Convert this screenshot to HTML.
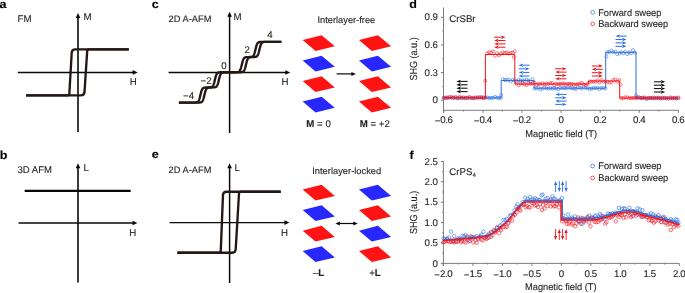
<!DOCTYPE html>
<html><head><meta charset="utf-8"><style>
html,body{margin:0;padding:0;background:#fff;}
body{width:685px;height:293px;overflow:hidden;}
svg{display:block;font-family:"Liberation Sans", sans-serif;will-change:transform;text-rendering:geometricPrecision;}
text{stroke:#231f20;stroke-width:0.12px;paint-order:stroke;}
</style></head><body>
<svg width="685" height="293" viewBox="0 0 685 293">
<rect width="685" height="293" fill="#fff"/>
<text transform="translate(-0.6 7.5) scale(1.08 1.0)" font-size="11.6" font-weight="bold" text-anchor="start" fill="#000" >a</text>
<text transform="translate(151.8 7.5) scale(1.08 1.0)" font-size="11.6" font-weight="bold" text-anchor="start" fill="#000" >c</text>
<text transform="translate(409.3 7.5) scale(1.08 1.0)" font-size="11.6" font-weight="bold" text-anchor="start" fill="#000" >d</text>
<text transform="translate(-0.3 158.6) scale(1.08 1.0)" font-size="11.6" font-weight="bold" text-anchor="start" fill="#000" >b</text>
<text transform="translate(151.8 158.3) scale(1.08 1.0)" font-size="11.6" font-weight="bold" text-anchor="start" fill="#000" >e</text>
<text transform="translate(409.5 158.6) scale(1.08 1.0)" font-size="11.6" font-weight="bold" text-anchor="start" fill="#000" >f</text>
<text transform="translate(17.6 22)" font-size="9.7" font-weight="normal" text-anchor="start" fill="#231f20" >FM</text>
<line x1="78" y1="131.9" x2="78" y2="17.1" stroke="#0a0a0a" stroke-width="1.6"/>
<path d="M78 12.9L80.3 17.9L75.7 17.9Z" fill="#0a0a0a"/>
<line x1="17.8" y1="72.4" x2="133.5" y2="72.4" stroke="#0a0a0a" stroke-width="1.45"/>
<path d="M137.7 72.4L132.7 74.7L132.7 70.1Z" fill="#0a0a0a"/>
<text transform="translate(83.6 19.9)" font-size="9.7" font-weight="normal" text-anchor="start" fill="#231f20" >M</text>
<text transform="translate(129.8 84.9)" font-size="9.7" font-weight="normal" text-anchor="start" fill="#231f20" >H</text>
<path d="M26 95.3 L80.9 95.3 Q84.3 95.3 84.52 91.9 L87.2 50.9 Q87.3 49.3 88.9 49.3 L128.8 49.3" fill="none" stroke="#231815" stroke-width="2.35"/>
<path d="M128.8 49.3 L75.3 49.3 Q71.9 49.3 71.7 52.7 L69.34 93.7 Q69.25 95.3 67.65 95.3 L26 95.3" fill="none" stroke="#231815" stroke-width="2.35"/>
<text transform="translate(17.5 173.2) scale(0.985 1.0)" font-size="9.7" font-weight="normal" text-anchor="start" fill="#231f20" >3D AFM</text>
<line x1="78" y1="282.6" x2="78" y2="167.4" stroke="#0a0a0a" stroke-width="1.6"/>
<path d="M78 163.2L80.3 168.2L75.7 168.2Z" fill="#0a0a0a"/>
<line x1="18.5" y1="223" x2="133.3" y2="223" stroke="#0a0a0a" stroke-width="1.55"/>
<path d="M137.5 223L132.5 225.3L132.5 220.7Z" fill="#0a0a0a"/>
<text transform="translate(83.6 171.4)" font-size="9.7" font-weight="normal" text-anchor="start" fill="#231f20" >L</text>
<text transform="translate(129.3 235.9)" font-size="9.7" font-weight="normal" text-anchor="start" fill="#231f20" >H</text>
<line x1="24.7" y1="190.8" x2="130.7" y2="190.8" stroke="#080808" stroke-width="2.35"/>
<text transform="translate(168.6 21.9) scale(0.99 1.0)" font-size="9.4" font-weight="normal" text-anchor="start" fill="#231f20" >2D A-AFM</text>
<line x1="229.6" y1="133" x2="229.6" y2="16" stroke="#0a0a0a" stroke-width="1.5"/>
<path d="M229.6 11.8L231.9 16.8L227.3 16.8Z" fill="#0a0a0a"/>
<line x1="168.6" y1="72.45" x2="286.1" y2="72.45" stroke="#0a0a0a" stroke-width="1.45"/>
<path d="M290.3 72.45L285.3 74.75L285.3 70.15Z" fill="#0a0a0a"/>
<text transform="translate(233.5 19.7)" font-size="9.7" font-weight="normal" text-anchor="start" fill="#231f20" >M</text>
<text transform="translate(281.6 84.7)" font-size="9.7" font-weight="normal" text-anchor="start" fill="#231f20" >H</text>
<path d="M178.9 102.65 L179.15 102.65 L179.4 102.65 L179.65 102.65 L179.9 102.65 L180.15 102.65 L180.4 102.65 L180.65 102.65 L180.9 102.65 L181.15 102.65 L181.4 102.65 L181.65 102.65 L181.9 102.65 L182.15 102.65 L182.4 102.65 L182.65 102.65 L182.9 102.65 L183.15 102.65 L183.4 102.65 L183.65 102.65 L183.9 102.65 L184.15 102.65 L184.4 102.65 L184.65 102.65 L184.9 102.65 L185.15 102.65 L185.4 102.65 L185.65 102.65 L185.9 102.65 L186.15 102.65 L186.4 102.65 L186.65 102.65 L186.9 102.65 L187.15 102.65 L187.4 102.65 L187.65 102.65 L187.9 102.65 L188.15 102.65 L188.4 102.65 L188.65 102.65 L188.9 102.65 L189.15 102.65 L189.4 102.65 L189.65 102.65 L189.9 102.65 L190.15 102.65 L190.4 102.65 L190.65 102.65 L190.9 102.65 L191.15 102.65 L191.4 102.65 L191.65 102.65 L191.9 102.65 L192.15 102.65 L192.4 102.65 L192.65 102.65 L192.9 102.65 L193.15 102.65 L193.4 102.65 L193.65 102.65 L193.9 102.65 L194.15 102.65 L194.4 102.65 L194.65 102.65 L194.9 102.65 L195.15 102.65 L195.4 102.65 L195.65 102.65 L195.9 102.65 L196.15 102.65 L196.4 102.65 L196.65 102.65 L196.9 102.65 L197.15 102.65 L197.4 102.64 L197.65 102.64 L197.9 102.64 L198.15 102.64 L198.4 102.63 L198.65 102.62 L198.9 102.62 L199.15 102.61 L199.4 102.59 L199.65 102.57 L199.9 102.55 L200.15 102.52 L200.4 102.47 L200.65 102.42 L200.9 102.35 L201.15 102.25 L201.4 102.13 L201.65 101.97 L201.9 101.76 L202.15 101.5 L202.4 101.16 L202.65 100.75 L202.9 100.24 L203.15 99.62 L203.4 98.89 L203.65 98.05 L203.9 97.11 L204.15 96.1 L204.4 95.05 L204.65 94 L204.9 92.99 L205.15 92.05 L205.4 91.21 L205.65 90.48 L205.9 89.86 L206.15 89.35 L206.4 88.94 L206.65 88.6 L206.9 88.34 L207.15 88.13 L207.4 87.97 L207.65 87.85 L207.9 87.75 L208.15 87.68 L208.4 87.63 L208.65 87.58 L208.9 87.55 L209.15 87.53 L209.4 87.51 L209.65 87.49 L209.9 87.48 L210.15 87.47 L210.4 87.47 L210.65 87.46 L210.9 87.46 L211.15 87.46 L211.4 87.45 L211.65 87.45 L211.9 87.45 L212.15 87.44 L212.4 87.44 L212.65 87.44 L212.9 87.43 L213.15 87.43 L213.4 87.42 L213.65 87.41 L213.9 87.39 L214.15 87.37 L214.4 87.35 L214.65 87.32 L214.9 87.27 L215.15 87.22 L215.4 87.15 L215.65 87.05 L215.9 86.93 L216.15 86.77 L216.4 86.56 L216.65 86.3 L216.9 85.96 L217.15 85.55 L217.4 85.04 L217.65 84.42 L217.9 83.69 L218.15 82.85 L218.4 81.91 L218.65 80.9 L218.9 79.85 L219.15 78.8 L219.4 77.79 L219.65 76.85 L219.9 76.01 L220.15 75.28 L220.4 74.66 L220.65 74.15 L220.9 73.74 L221.15 73.4 L221.4 73.14 L221.65 72.93 L221.9 72.77 L222.15 72.65 L222.4 72.55 L222.65 72.48 L222.9 72.43 L223.15 72.38 L223.4 72.35 L223.65 72.33 L223.9 72.31 L224.15 72.29 L224.4 72.28 L224.65 72.28 L224.9 72.27 L225.15 72.26 L225.4 72.26 L225.65 72.26 L225.9 72.26 L226.15 72.25 L226.4 72.25 L226.65 72.25 L226.9 72.25 L227.15 72.25 L227.4 72.25 L227.65 72.25 L227.9 72.25 L228.15 72.25 L228.4 72.25 L228.65 72.25 L228.9 72.25 L229.15 72.25 L229.4 72.25 L229.65 72.25 L229.9 72.25 L230.15 72.25 L230.4 72.25 L230.65 72.25 L230.9 72.25 L231.15 72.25 L231.4 72.25 L231.65 72.25 L231.9 72.25 L232.15 72.25 L232.4 72.25 L232.65 72.25 L232.9 72.25 L233.15 72.25 L233.4 72.25 L233.65 72.25 L233.9 72.25 L234.15 72.25 L234.4 72.25 L234.65 72.25 L234.9 72.25 L235.15 72.25 L235.4 72.25 L235.65 72.25 L235.9 72.25 L236.15 72.25 L236.4 72.25 L236.65 72.25 L236.9 72.25 L237.15 72.25 L237.4 72.25 L237.65 72.25 L237.9 72.25 L238.15 72.25 L238.4 72.25 L238.65 72.25 L238.9 72.24 L239.15 72.24 L239.4 72.24 L239.65 72.24 L239.9 72.23 L240.15 72.23 L240.4 72.22 L240.65 72.21 L240.9 72.2 L241.15 72.18 L241.4 72.16 L241.65 72.13 L241.9 72.09 L242.15 72.04 L242.4 71.98 L242.65 71.89 L242.9 71.78 L243.15 71.64 L243.4 71.45 L243.65 71.21 L243.9 70.91 L244.15 70.52 L244.4 70.05 L244.65 69.48 L244.9 68.79 L245.15 67.99 L245.4 67.09 L245.65 66.11 L245.9 65.07 L246.15 64.02 L246.4 62.99 L246.65 62.02 L246.9 61.14 L247.15 60.36 L247.4 59.7 L247.65 59.15 L247.9 58.69 L248.15 58.33 L248.4 58.04 L248.65 57.81 L248.9 57.63 L249.15 57.5 L249.4 57.39 L249.65 57.31 L249.9 57.25 L250.15 57.2 L250.4 57.16 L250.65 57.14 L250.9 57.11 L251.15 57.1 L251.4 57.09 L251.65 57.08 L251.9 57.07 L252.15 57.06 L252.4 57.06 L252.65 57.05 L252.9 57.05 L253.15 57.04 L253.4 57.04 L253.65 57.03 L253.9 57.02 L254.15 57.01 L254.4 57 L254.65 56.98 L254.9 56.96 L255.15 56.93 L255.4 56.89 L255.65 56.84 L255.9 56.78 L256.15 56.69 L256.4 56.58 L256.65 56.44 L256.9 56.25 L257.15 56.01 L257.4 55.71 L257.65 55.32 L257.9 54.85 L258.15 54.28 L258.4 53.59 L258.65 52.79 L258.9 51.89 L259.15 50.91 L259.4 49.87 L259.65 48.82 L259.9 47.79 L260.15 46.82 L260.4 45.94 L260.65 45.16 L260.9 44.5 L261.15 43.95 L261.4 43.49 L261.65 43.13 L261.9 42.84 L262.15 42.61 L262.4 42.43 L262.65 42.3 L262.9 42.19 L263.15 42.11 L263.4 42.05 L263.65 42 L263.9 41.96 L264.15 41.94 L264.4 41.92 L264.65 41.9 L264.9 41.89 L265.15 41.88 L265.4 41.87 L265.65 41.87 L265.9 41.86 L266.15 41.86 L266.4 41.86 L266.65 41.86 L266.9 41.85 L267.15 41.85 L267.4 41.85 L267.65 41.85 L267.9 41.85 L268.15 41.85 L268.4 41.85 L268.65 41.85 L268.9 41.85 L269.15 41.85 L269.4 41.85 L269.65 41.85 L269.9 41.85 L270.15 41.85 L270.4 41.85 L270.65 41.85 L270.9 41.85 L271.15 41.85 L271.4 41.85 L271.65 41.85 L271.9 41.85 L272.15 41.85 L272.4 41.85 L272.65 41.85 L272.9 41.85 L273.15 41.85 L273.4 41.85 L273.65 41.85 L273.9 41.85 L274.15 41.85 L274.4 41.85 L274.65 41.85 L274.9 41.85 L275.15 41.85 L275.4 41.85 L275.65 41.85 L275.9 41.85 L276.15 41.85 L276.4 41.85 L276.65 41.85 L276.9 41.85 L277.15 41.85 L277.4 41.85 L277.65 41.85 L277.9 41.85 L278.15 41.85 L278.4 41.85 L278.65 41.85 L278.9 41.85 L279.15 41.85 L279.4 41.85 L279.65 41.85 L279.9 41.85 L280.15 41.85 L280.4 41.85 L280.65 41.85 L280.9 41.85 L281.15 41.85 L281.4 41.85" fill="none" stroke="#231815" stroke-width="2.35"/>
<path d="M178.9 102.65 L179.15 102.65 L179.4 102.65 L179.65 102.65 L179.9 102.65 L180.15 102.65 L180.4 102.65 L180.65 102.65 L180.9 102.65 L181.15 102.65 L181.4 102.65 L181.65 102.65 L181.9 102.65 L182.15 102.65 L182.4 102.65 L182.65 102.65 L182.9 102.65 L183.15 102.65 L183.4 102.65 L183.65 102.65 L183.9 102.65 L184.15 102.65 L184.4 102.65 L184.65 102.65 L184.9 102.65 L185.15 102.65 L185.4 102.65 L185.65 102.65 L185.9 102.65 L186.15 102.65 L186.4 102.65 L186.65 102.65 L186.9 102.65 L187.15 102.65 L187.4 102.65 L187.65 102.65 L187.9 102.65 L188.15 102.65 L188.4 102.65 L188.65 102.65 L188.9 102.65 L189.15 102.65 L189.4 102.65 L189.65 102.65 L189.9 102.65 L190.15 102.65 L190.4 102.65 L190.65 102.65 L190.9 102.65 L191.15 102.65 L191.4 102.65 L191.65 102.65 L191.9 102.65 L192.15 102.65 L192.4 102.65 L192.65 102.65 L192.9 102.65 L193.15 102.65 L193.4 102.64 L193.65 102.64 L193.9 102.64 L194.15 102.64 L194.4 102.63 L194.65 102.62 L194.9 102.62 L195.15 102.61 L195.4 102.59 L195.65 102.57 L195.9 102.55 L196.15 102.52 L196.4 102.47 L196.65 102.42 L196.9 102.35 L197.15 102.25 L197.4 102.13 L197.65 101.97 L197.9 101.76 L198.15 101.5 L198.4 101.16 L198.65 100.75 L198.9 100.24 L199.15 99.62 L199.4 98.89 L199.65 98.05 L199.9 97.11 L200.15 96.1 L200.4 95.05 L200.65 94 L200.9 92.99 L201.15 92.05 L201.4 91.21 L201.65 90.48 L201.9 89.86 L202.15 89.35 L202.4 88.94 L202.65 88.6 L202.9 88.34 L203.15 88.13 L203.4 87.97 L203.65 87.85 L203.9 87.75 L204.15 87.68 L204.4 87.63 L204.65 87.58 L204.9 87.55 L205.15 87.53 L205.4 87.51 L205.65 87.49 L205.9 87.48 L206.15 87.47 L206.4 87.47 L206.65 87.46 L206.9 87.46 L207.15 87.46 L207.4 87.45 L207.65 87.45 L207.9 87.45 L208.15 87.44 L208.4 87.44 L208.65 87.44 L208.9 87.43 L209.15 87.43 L209.4 87.42 L209.65 87.41 L209.9 87.39 L210.15 87.37 L210.4 87.35 L210.65 87.32 L210.9 87.27 L211.15 87.22 L211.4 87.15 L211.65 87.05 L211.9 86.93 L212.15 86.77 L212.4 86.56 L212.65 86.3 L212.9 85.96 L213.15 85.55 L213.4 85.04 L213.65 84.42 L213.9 83.69 L214.15 82.85 L214.4 81.91 L214.65 80.9 L214.9 79.85 L215.15 78.8 L215.4 77.79 L215.65 76.85 L215.9 76.01 L216.15 75.28 L216.4 74.66 L216.65 74.15 L216.9 73.74 L217.15 73.4 L217.4 73.14 L217.65 72.93 L217.9 72.77 L218.15 72.65 L218.4 72.55 L218.65 72.48 L218.9 72.43 L219.15 72.38 L219.4 72.35 L219.65 72.33 L219.9 72.31 L220.15 72.29 L220.4 72.28 L220.65 72.28 L220.9 72.27 L221.15 72.26 L221.4 72.26 L221.65 72.26 L221.9 72.26 L222.15 72.25 L222.4 72.25 L222.65 72.25 L222.9 72.25 L223.15 72.25 L223.4 72.25 L223.65 72.25 L223.9 72.25 L224.15 72.25 L224.4 72.25 L224.65 72.25 L224.9 72.25 L225.15 72.25 L225.4 72.25 L225.65 72.25 L225.9 72.25 L226.15 72.25 L226.4 72.25 L226.65 72.25 L226.9 72.25 L227.15 72.25 L227.4 72.25 L227.65 72.25 L227.9 72.25 L228.15 72.25 L228.4 72.25 L228.65 72.25 L228.9 72.25 L229.15 72.25 L229.4 72.25 L229.65 72.25 L229.9 72.25 L230.15 72.25 L230.4 72.25 L230.65 72.25 L230.9 72.25 L231.15 72.25 L231.4 72.25 L231.65 72.25 L231.9 72.25 L232.15 72.25 L232.4 72.25 L232.65 72.25 L232.9 72.25 L233.15 72.25 L233.4 72.25 L233.65 72.25 L233.9 72.25 L234.15 72.25 L234.4 72.25 L234.65 72.24 L234.9 72.24 L235.15 72.24 L235.4 72.24 L235.65 72.23 L235.9 72.23 L236.15 72.22 L236.4 72.21 L236.65 72.2 L236.9 72.18 L237.15 72.16 L237.4 72.14 L237.65 72.1 L237.9 72.05 L238.15 71.99 L238.4 71.91 L238.65 71.8 L238.9 71.67 L239.15 71.49 L239.4 71.26 L239.65 70.97 L239.9 70.61 L240.15 70.15 L240.4 69.6 L240.65 68.94 L240.9 68.16 L241.15 67.28 L241.4 66.31 L241.65 65.28 L241.9 64.23 L242.15 63.19 L242.4 62.21 L242.65 61.31 L242.9 60.51 L243.15 59.82 L243.4 59.25 L243.65 58.78 L243.9 58.39 L244.15 58.09 L244.4 57.85 L244.65 57.66 L244.9 57.52 L245.15 57.41 L245.4 57.32 L245.65 57.26 L245.9 57.21 L246.15 57.17 L246.4 57.14 L246.65 57.12 L246.9 57.1 L247.15 57.09 L247.4 57.08 L247.65 57.07 L247.9 57.06 L248.15 57.06 L248.4 57.05 L248.65 57.05 L248.9 57.05 L249.15 57.04 L249.4 57.04 L249.65 57.03 L249.9 57.02 L250.15 57.01 L250.4 57 L250.65 56.98 L250.9 56.96 L251.15 56.93 L251.4 56.89 L251.65 56.84 L251.9 56.78 L252.15 56.69 L252.4 56.58 L252.65 56.44 L252.9 56.25 L253.15 56.01 L253.4 55.71 L253.65 55.32 L253.9 54.85 L254.15 54.28 L254.4 53.59 L254.65 52.79 L254.9 51.89 L255.15 50.91 L255.4 49.87 L255.65 48.82 L255.9 47.79 L256.15 46.82 L256.4 45.94 L256.65 45.16 L256.9 44.5 L257.15 43.95 L257.4 43.49 L257.65 43.13 L257.9 42.84 L258.15 42.61 L258.4 42.43 L258.65 42.3 L258.9 42.19 L259.15 42.11 L259.4 42.05 L259.65 42 L259.9 41.96 L260.15 41.94 L260.4 41.92 L260.65 41.9 L260.9 41.89 L261.15 41.88 L261.4 41.87 L261.65 41.87 L261.9 41.86 L262.15 41.86 L262.4 41.86 L262.65 41.86 L262.9 41.85 L263.15 41.85 L263.4 41.85 L263.65 41.85 L263.9 41.85 L264.15 41.85 L264.4 41.85 L264.65 41.85 L264.9 41.85 L265.15 41.85 L265.4 41.85 L265.65 41.85 L265.9 41.85 L266.15 41.85 L266.4 41.85 L266.65 41.85 L266.9 41.85 L267.15 41.85 L267.4 41.85 L267.65 41.85 L267.9 41.85 L268.15 41.85 L268.4 41.85 L268.65 41.85 L268.9 41.85 L269.15 41.85 L269.4 41.85 L269.65 41.85 L269.9 41.85 L270.15 41.85 L270.4 41.85 L270.65 41.85 L270.9 41.85 L271.15 41.85 L271.4 41.85 L271.65 41.85 L271.9 41.85 L272.15 41.85 L272.4 41.85 L272.65 41.85 L272.9 41.85 L273.15 41.85 L273.4 41.85 L273.65 41.85 L273.9 41.85 L274.15 41.85 L274.4 41.85 L274.65 41.85 L274.9 41.85 L275.15 41.85 L275.4 41.85 L275.65 41.85 L275.9 41.85 L276.15 41.85 L276.4 41.85 L276.65 41.85 L276.9 41.85 L277.15 41.85 L277.4 41.85 L277.65 41.85 L277.9 41.85 L278.15 41.85 L278.4 41.85 L278.65 41.85 L278.9 41.85 L279.15 41.85 L279.4 41.85 L279.65 41.85 L279.9 41.85 L280.15 41.85 L280.4 41.85 L280.65 41.85 L280.9 41.85 L281.15 41.85 L281.4 41.85" fill="none" stroke="#231815" stroke-width="2.35"/>
<text transform="translate(267.2 37.7)" font-size="9.7" font-weight="normal" text-anchor="start" fill="#231f20" >4</text>
<text transform="translate(244.6 53)" font-size="9.7" font-weight="normal" text-anchor="start" fill="#231f20" >2</text>
<text transform="translate(221.2 68.5)" font-size="9.7" font-weight="normal" text-anchor="start" fill="#231f20" >0</text>
<text transform="translate(200.6 84)" font-size="9.7" font-weight="normal" text-anchor="start" fill="#231f20" >−2</text>
<text transform="translate(183.1 99)" font-size="9.7" font-weight="normal" text-anchor="start" fill="#231f20" >−4</text>
<polygon points="302.7,39.95 321.6,35.15 334.8,46.35 315.5,50.9" fill="#ff1313"/>
<polygon points="302.7,60.45 321.6,55.65 334.8,66.85 315.5,71.4" fill="#2727fe"/>
<polygon points="302.7,81.05 321.6,76.25 334.8,87.45 315.5,92" fill="#ff1313"/>
<polygon points="302.7,101.45 321.6,96.65 334.8,107.85 315.5,112.4" fill="#2727fe"/>
<polygon points="359,39.95 377.9,35.15 391.1,46.35 371.8,50.9" fill="#ff1313"/>
<polygon points="359,60.45 377.9,55.65 391.1,66.85 371.8,71.4" fill="#2727fe"/>
<polygon points="359,81.05 377.9,76.25 391.1,87.45 371.8,92" fill="#ff1313"/>
<polygon points="359,101.45 377.9,96.65 391.1,107.85 371.8,112.4" fill="#ff1313"/>
<text transform="translate(317.4 22.6)" font-size="9.3" font-weight="normal" text-anchor="start" fill="#231f20" >Interlayer-free</text>
<line x1="336.6" y1="73.9" x2="352.2" y2="73.9" stroke="#0a0a0a" stroke-width="1.2"/>
<path d="M355.9 73.9L351.4 75.9L351.4 71.9Z" fill="#0a0a0a"/>
<text transform="translate(306.3 127.1) scale(1 1.0)" font-size="9.7" fill="#231f20"><tspan font-weight="bold">M</tspan> = 0</text>
<text transform="translate(359.7 127.1) scale(1 1.0)" font-size="9.7" fill="#231f20"><tspan font-weight="bold">M</tspan> = +2</text>
<text transform="translate(168.6 172.8) scale(0.99 1.0)" font-size="9.4" font-weight="normal" text-anchor="start" fill="#231f20" >2D A-AFM</text>
<line x1="229.6" y1="283" x2="229.6" y2="167.4" stroke="#0a0a0a" stroke-width="1.5"/>
<path d="M229.6 163.2L231.9 168.2L227.3 168.2Z" fill="#0a0a0a"/>
<line x1="169.6" y1="222.6" x2="285.2" y2="222.6" stroke="#0a0a0a" stroke-width="1.45"/>
<path d="M289.4 222.6L284.4 224.9L284.4 220.3Z" fill="#0a0a0a"/>
<text transform="translate(234.4 170.7)" font-size="9.7" font-weight="normal" text-anchor="start" fill="#231f20" >L</text>
<text transform="translate(281 235.5)" font-size="9.7" font-weight="normal" text-anchor="start" fill="#231f20" >H</text>
<path d="M177.4 252.7 L232.1 252.7 Q235.5 252.7 235.7 249.3 L239.01 193.3 Q239.1 191.7 240.7 191.7 L280.7 191.7" fill="none" stroke="#231815" stroke-width="2.35"/>
<path d="M280.7 191.7 L226.5 191.7 Q223.1 191.7 222.97 195.1 L220.76 251.1 Q220.7 252.7 219.1 252.7 L177.4 252.7" fill="none" stroke="#231815" stroke-width="2.35"/>
<polygon points="302.7,189.55 321.6,184.75 334.8,195.95 315.5,200.5" fill="#ff1313"/>
<polygon points="302.7,210.05 321.6,205.25 334.8,216.45 315.5,221" fill="#2727fe"/>
<polygon points="302.7,230.65 321.6,225.85 334.8,237.05 315.5,241.6" fill="#ff1313"/>
<polygon points="302.7,251.05 321.6,246.25 334.8,257.45 315.5,262" fill="#2727fe"/>
<polygon points="359,189.55 377.9,184.75 391.1,195.95 371.8,200.5" fill="#2727fe"/>
<polygon points="359,210.05 377.9,205.25 391.1,216.45 371.8,221" fill="#ff1313"/>
<polygon points="359,230.65 377.9,225.85 391.1,237.05 371.8,241.6" fill="#2727fe"/>
<polygon points="359,251.05 377.9,246.25 391.1,257.45 371.8,262" fill="#ff1313"/>
<text transform="translate(312.2 173.5) scale(1.005 1.0)" font-size="9.3" font-weight="normal" text-anchor="start" fill="#231f20" >Interlayer-locked</text>
<line x1="339" y1="223.5" x2="354.1" y2="223.5" stroke="#0a0a0a" stroke-width="1.2"/>
<path d="M357.8 223.5L353.3 225.5L353.3 221.5Z" fill="#0a0a0a"/>
<path d="M335.4 223.5L339.9 225.5L339.9 221.5Z" fill="#0a0a0a"/>
<text transform="translate(312.9 275.8) scale(1 1.0)" font-size="9.7" fill="#231f20">–<tspan font-weight="bold">L</tspan></text>
<text transform="translate(369.2 275.8) scale(1 1.0)" font-size="9.7" fill="#231f20">+<tspan font-weight="bold">L</tspan></text>
<line x1="443.5" y1="7.5" x2="443.5" y2="112.8" stroke="#6e6e6e" stroke-width="0.9"/>
<line x1="443.5" y1="110.3" x2="678.4" y2="110.3" stroke="#6e6e6e" stroke-width="0.9"/>
<line x1="443.8" y1="110.3" x2="443.8" y2="112.8" stroke="#6e6e6e" stroke-width="0.9"/>
<text transform="translate(443.6 123.2)" font-size="9.7" font-weight="normal" text-anchor="middle" fill="#231f20" letter-spacing="-0.4"><tspan dy="0.9">−</tspan><tspan dy="-0.9" dx="0.4">0.6</tspan></text>
<line x1="463.35" y1="110.3" x2="463.35" y2="111.5" stroke="#6e6e6e" stroke-width="0.9"/>
<line x1="482.9" y1="110.3" x2="482.9" y2="112.8" stroke="#6e6e6e" stroke-width="0.9"/>
<text transform="translate(482.7 123.2)" font-size="9.7" font-weight="normal" text-anchor="middle" fill="#231f20" letter-spacing="-0.4"><tspan dy="0.9">−</tspan><tspan dy="-0.9" dx="0.4">0.4</tspan></text>
<line x1="502.45" y1="110.3" x2="502.45" y2="111.5" stroke="#6e6e6e" stroke-width="0.9"/>
<line x1="522" y1="110.3" x2="522" y2="112.8" stroke="#6e6e6e" stroke-width="0.9"/>
<text transform="translate(521.8 123.2)" font-size="9.7" font-weight="normal" text-anchor="middle" fill="#231f20" letter-spacing="-0.4"><tspan dy="0.9">−</tspan><tspan dy="-0.9" dx="0.4">0.2</tspan></text>
<line x1="541.55" y1="110.3" x2="541.55" y2="111.5" stroke="#6e6e6e" stroke-width="0.9"/>
<line x1="561.1" y1="110.3" x2="561.1" y2="112.8" stroke="#6e6e6e" stroke-width="0.9"/>
<text transform="translate(560.9 123.2)" font-size="9.7" font-weight="normal" text-anchor="middle" fill="#231f20" letter-spacing="-0.4">0</text>
<line x1="580.65" y1="110.3" x2="580.65" y2="111.5" stroke="#6e6e6e" stroke-width="0.9"/>
<line x1="600.2" y1="110.3" x2="600.2" y2="112.8" stroke="#6e6e6e" stroke-width="0.9"/>
<text transform="translate(600 123.2)" font-size="9.7" font-weight="normal" text-anchor="middle" fill="#231f20" letter-spacing="-0.4">0.2</text>
<line x1="619.75" y1="110.3" x2="619.75" y2="111.5" stroke="#6e6e6e" stroke-width="0.9"/>
<line x1="639.3" y1="110.3" x2="639.3" y2="112.8" stroke="#6e6e6e" stroke-width="0.9"/>
<text transform="translate(639.1 123.2)" font-size="9.7" font-weight="normal" text-anchor="middle" fill="#231f20" letter-spacing="-0.4">0.4</text>
<line x1="658.85" y1="110.3" x2="658.85" y2="111.5" stroke="#6e6e6e" stroke-width="0.9"/>
<line x1="678.4" y1="110.3" x2="678.4" y2="112.8" stroke="#6e6e6e" stroke-width="0.9"/>
<text transform="translate(678.2 123.2)" font-size="9.7" font-weight="normal" text-anchor="middle" fill="#231f20" letter-spacing="-0.4">0.6</text>
<line x1="440.9" y1="100.2" x2="443.5" y2="100.2" stroke="#6e6e6e" stroke-width="0.9"/>
<text transform="translate(438 103.3)" font-size="9.7" font-weight="normal" text-anchor="end" fill="#231f20" >0</text>
<line x1="442.3" y1="86.39" x2="443.5" y2="86.39" stroke="#6e6e6e" stroke-width="0.9"/>
<line x1="440.9" y1="72.57" x2="443.5" y2="72.57" stroke="#6e6e6e" stroke-width="0.9"/>
<text transform="translate(438 75.67)" font-size="9.7" font-weight="normal" text-anchor="end" fill="#231f20" >0.3</text>
<line x1="442.3" y1="58.76" x2="443.5" y2="58.76" stroke="#6e6e6e" stroke-width="0.9"/>
<line x1="440.9" y1="44.94" x2="443.5" y2="44.94" stroke="#6e6e6e" stroke-width="0.9"/>
<text transform="translate(438 48.04)" font-size="9.7" font-weight="normal" text-anchor="end" fill="#231f20" >0.6</text>
<line x1="442.3" y1="31.13" x2="443.5" y2="31.13" stroke="#6e6e6e" stroke-width="0.9"/>
<line x1="440.9" y1="17.31" x2="443.5" y2="17.31" stroke="#6e6e6e" stroke-width="0.9"/>
<text transform="translate(438 20.41)" font-size="9.7" font-weight="normal" text-anchor="end" fill="#231f20" >0.9</text>
<text transform="translate(561.15 137) scale(0.96 1.0)" font-size="9.7" font-weight="normal" text-anchor="middle" fill="#231f20" >Magnetic field (T)</text>
<text transform="translate(417.4 58.95) rotate(-90) scale(0.889 1.0)" font-size="10.2" font-weight="normal" text-anchor="middle" fill="#231f20" >SHG (a.u.)</text>
<text transform="translate(449.2 22)" font-size="9.7" font-weight="normal" text-anchor="start" fill="#231f20" >CrSBr</text>
<circle cx="592.7" cy="12.3" r="1.9" fill="none" stroke="#2d6fdc" stroke-width="0.7"/>
<circle cx="592.7" cy="23.9" r="1.9" fill="none" stroke="#f5141e" stroke-width="0.7"/>
<text transform="translate(598.15 15.8) scale(0.955 1.0)" font-size="9.7" font-weight="normal" text-anchor="start" fill="#231f20" >Forward sweep</text>
<text transform="translate(598.15 27.1) scale(0.955 1.0)" font-size="9.7" font-weight="normal" text-anchor="start" fill="#231f20" >Backward sweep</text>
<g fill="none" stroke="#2d6fdc" stroke-width="0.55"><circle cx="443.8" cy="97.9" r="1.55"/><circle cx="445.77" cy="98.01" r="1.55"/><circle cx="447.74" cy="97.8" r="1.55"/><circle cx="449.71" cy="97.58" r="1.55"/><circle cx="451.69" cy="97.73" r="1.55"/><circle cx="453.66" cy="97.54" r="1.55"/><circle cx="455.63" cy="97.92" r="1.55"/><circle cx="457.6" cy="98.39" r="1.55"/><circle cx="459.57" cy="97.72" r="1.55"/><circle cx="461.54" cy="97.67" r="1.55"/><circle cx="463.51" cy="98.08" r="1.55"/><circle cx="465.49" cy="98.03" r="1.55"/><circle cx="467.46" cy="97.94" r="1.55"/><circle cx="469.43" cy="97.56" r="1.55"/><circle cx="471.4" cy="97.89" r="1.55"/><circle cx="473.37" cy="98.15" r="1.55"/><circle cx="475.34" cy="97.41" r="1.55"/><circle cx="477.31" cy="97.73" r="1.55"/><circle cx="479.29" cy="97.21" r="1.55"/><circle cx="481.26" cy="97.43" r="1.55"/><circle cx="483.23" cy="97.23" r="1.55"/><circle cx="485.2" cy="97.81" r="1.55"/><circle cx="487.17" cy="97.44" r="1.55"/><circle cx="489.14" cy="98" r="1.55"/><circle cx="491.11" cy="97.96" r="1.55"/><circle cx="493.09" cy="97.83" r="1.55"/><circle cx="495.06" cy="96.98" r="1.55"/><circle cx="497.03" cy="97.7" r="1.55"/><circle cx="499" cy="97.88" r="1.55"/><circle cx="500.97" cy="97.94" r="1.55"/><circle cx="502.94" cy="79.2" r="1.55"/><circle cx="504.91" cy="80.09" r="1.55"/><circle cx="506.89" cy="79.67" r="1.55"/><circle cx="508.86" cy="79.81" r="1.55"/><circle cx="510.83" cy="81.4" r="1.55"/><circle cx="512.8" cy="79.81" r="1.55"/><circle cx="514.77" cy="80.47" r="1.55"/><circle cx="516.74" cy="81.25" r="1.55"/><circle cx="518.71" cy="80" r="1.55"/><circle cx="520.69" cy="80.4" r="1.55"/><circle cx="522.66" cy="80.59" r="1.55"/><circle cx="524.63" cy="80.55" r="1.55"/><circle cx="526.6" cy="79.46" r="1.55"/><circle cx="528.57" cy="80.56" r="1.55"/><circle cx="530.54" cy="81.66" r="1.55"/><circle cx="532.51" cy="79.18" r="1.55"/><circle cx="534.49" cy="88.75" r="1.55"/><circle cx="536.46" cy="88.28" r="1.55"/><circle cx="538.43" cy="87.79" r="1.55"/><circle cx="540.4" cy="89.47" r="1.55"/><circle cx="542.37" cy="88.68" r="1.55"/><circle cx="544.34" cy="87.44" r="1.55"/><circle cx="546.31" cy="88.25" r="1.55"/><circle cx="548.29" cy="88.57" r="1.55"/><circle cx="550.26" cy="88.08" r="1.55"/><circle cx="552.23" cy="88.63" r="1.55"/><circle cx="554.2" cy="88.16" r="1.55"/><circle cx="556.17" cy="88.62" r="1.55"/><circle cx="558.14" cy="89.11" r="1.55"/><circle cx="560.11" cy="87.77" r="1.55"/><circle cx="562.09" cy="88.33" r="1.55"/><circle cx="564.06" cy="87.91" r="1.55"/><circle cx="566.03" cy="88.28" r="1.55"/><circle cx="568" cy="87.44" r="1.55"/><circle cx="569.97" cy="87.83" r="1.55"/><circle cx="571.94" cy="88.08" r="1.55"/><circle cx="573.91" cy="88.77" r="1.55"/><circle cx="575.89" cy="88.93" r="1.55"/><circle cx="577.86" cy="87.36" r="1.55"/><circle cx="579.83" cy="87.69" r="1.55"/><circle cx="581.8" cy="88.61" r="1.55"/><circle cx="583.77" cy="86.93" r="1.55"/><circle cx="585.74" cy="87.91" r="1.55"/><circle cx="587.71" cy="88.14" r="1.55"/><circle cx="589.69" cy="89" r="1.55"/><circle cx="591.66" cy="88.64" r="1.55"/><circle cx="593.63" cy="87.99" r="1.55"/><circle cx="595.6" cy="87.97" r="1.55"/><circle cx="597.57" cy="88.04" r="1.55"/><circle cx="599.54" cy="89.17" r="1.55"/><circle cx="601.51" cy="87.93" r="1.55"/><circle cx="603.49" cy="88.01" r="1.55"/><circle cx="605.46" cy="88.42" r="1.55"/><circle cx="607.43" cy="52.1" r="1.55"/><circle cx="609.4" cy="51.98" r="1.55"/><circle cx="611.37" cy="50.47" r="1.55"/><circle cx="613.34" cy="52.28" r="1.55"/><circle cx="615.31" cy="51.57" r="1.55"/><circle cx="617.29" cy="54.21" r="1.55"/><circle cx="619.26" cy="53.37" r="1.55"/><circle cx="621.23" cy="52.26" r="1.55"/><circle cx="623.2" cy="53.4" r="1.55"/><circle cx="625.17" cy="51.74" r="1.55"/><circle cx="627.14" cy="54.03" r="1.55"/><circle cx="629.11" cy="52.29" r="1.55"/><circle cx="631.09" cy="53.26" r="1.55"/><circle cx="633.06" cy="50.18" r="1.55"/><circle cx="635.03" cy="52.87" r="1.55"/><circle cx="637" cy="97.6" r="1.55"/><circle cx="638.97" cy="97.48" r="1.55"/><circle cx="640.94" cy="98.09" r="1.55"/><circle cx="642.91" cy="97.88" r="1.55"/><circle cx="644.89" cy="98.26" r="1.55"/><circle cx="646.86" cy="99" r="1.55"/><circle cx="648.83" cy="97.9" r="1.55"/><circle cx="650.8" cy="97.98" r="1.55"/><circle cx="652.77" cy="98.27" r="1.55"/><circle cx="654.74" cy="98.38" r="1.55"/><circle cx="656.71" cy="98.14" r="1.55"/><circle cx="658.69" cy="98.13" r="1.55"/><circle cx="660.66" cy="98.45" r="1.55"/><circle cx="662.63" cy="98.39" r="1.55"/><circle cx="664.6" cy="97.83" r="1.55"/><circle cx="666.57" cy="98.17" r="1.55"/><circle cx="668.54" cy="98.21" r="1.55"/><circle cx="670.51" cy="97.82" r="1.55"/><circle cx="672.49" cy="98.29" r="1.55"/><circle cx="674.46" cy="97.89" r="1.55"/><circle cx="676.43" cy="98.55" r="1.55"/><circle cx="678.4" cy="98.27" r="1.55"/></g>
<path d="M443.8 97.9 L501.2 97.9 L501.2 80.5 L534.2 80.5 L534.2 88.2 L605.7 88.2 L605.7 52.3 L636 52.3 L636 98.2 L678.4 98.2" fill="none" stroke="#2d6fdc" stroke-width="1.0"/>
<g fill="none" stroke="#f5141e" stroke-width="0.55"><circle cx="443.8" cy="97.73" r="1.55"/><circle cx="445.77" cy="97.48" r="1.55"/><circle cx="447.74" cy="97.66" r="1.55"/><circle cx="449.71" cy="96.96" r="1.55"/><circle cx="451.69" cy="97.28" r="1.55"/><circle cx="453.66" cy="97.83" r="1.55"/><circle cx="455.63" cy="96.91" r="1.55"/><circle cx="457.6" cy="98.01" r="1.55"/><circle cx="459.57" cy="97.05" r="1.55"/><circle cx="461.54" cy="97.98" r="1.55"/><circle cx="463.51" cy="97.39" r="1.55"/><circle cx="465.49" cy="97.99" r="1.55"/><circle cx="467.46" cy="97.75" r="1.55"/><circle cx="469.43" cy="97.13" r="1.55"/><circle cx="471.4" cy="98.16" r="1.55"/><circle cx="473.37" cy="98.23" r="1.55"/><circle cx="475.34" cy="97.68" r="1.55"/><circle cx="477.31" cy="97.6" r="1.55"/><circle cx="479.29" cy="97.64" r="1.55"/><circle cx="481.26" cy="97.34" r="1.55"/><circle cx="483.23" cy="98.11" r="1.55"/><circle cx="485.2" cy="97.5" r="1.55"/><circle cx="487.17" cy="53.42" r="1.55"/><circle cx="489.14" cy="52.25" r="1.55"/><circle cx="491.11" cy="52.51" r="1.55"/><circle cx="493.09" cy="51.48" r="1.55"/><circle cx="495.06" cy="55.49" r="1.55"/><circle cx="497.03" cy="53.26" r="1.55"/><circle cx="499" cy="55.03" r="1.55"/><circle cx="500.97" cy="53.52" r="1.55"/><circle cx="502.94" cy="52.4" r="1.55"/><circle cx="504.91" cy="52.98" r="1.55"/><circle cx="506.89" cy="52.62" r="1.55"/><circle cx="508.86" cy="53.51" r="1.55"/><circle cx="510.83" cy="52.91" r="1.55"/><circle cx="512.8" cy="53.03" r="1.55"/><circle cx="514.77" cy="51.32" r="1.55"/><circle cx="516.74" cy="83.39" r="1.55"/><circle cx="518.71" cy="85.25" r="1.55"/><circle cx="520.69" cy="83.49" r="1.55"/><circle cx="522.66" cy="83.21" r="1.55"/><circle cx="524.63" cy="84.25" r="1.55"/><circle cx="526.6" cy="85.06" r="1.55"/><circle cx="528.57" cy="82.9" r="1.55"/><circle cx="530.54" cy="83.84" r="1.55"/><circle cx="532.51" cy="83.52" r="1.55"/><circle cx="534.49" cy="82.67" r="1.55"/><circle cx="536.46" cy="84.55" r="1.55"/><circle cx="538.43" cy="83.98" r="1.55"/><circle cx="540.4" cy="84.05" r="1.55"/><circle cx="542.37" cy="83.43" r="1.55"/><circle cx="544.34" cy="84.34" r="1.55"/><circle cx="546.31" cy="83.59" r="1.55"/><circle cx="548.29" cy="83.89" r="1.55"/><circle cx="550.26" cy="83.16" r="1.55"/><circle cx="552.23" cy="83.08" r="1.55"/><circle cx="554.2" cy="85.01" r="1.55"/><circle cx="556.17" cy="83.62" r="1.55"/><circle cx="558.14" cy="84.22" r="1.55"/><circle cx="560.11" cy="83.97" r="1.55"/><circle cx="562.09" cy="83.67" r="1.55"/><circle cx="564.06" cy="83.62" r="1.55"/><circle cx="566.03" cy="84.47" r="1.55"/><circle cx="568" cy="83.77" r="1.55"/><circle cx="569.97" cy="83.89" r="1.55"/><circle cx="571.94" cy="84.02" r="1.55"/><circle cx="573.91" cy="84.89" r="1.55"/><circle cx="575.89" cy="84.51" r="1.55"/><circle cx="577.86" cy="84.29" r="1.55"/><circle cx="579.83" cy="83.58" r="1.55"/><circle cx="581.8" cy="82.96" r="1.55"/><circle cx="583.77" cy="84.72" r="1.55"/><circle cx="585.74" cy="84.73" r="1.55"/><circle cx="587.71" cy="83.89" r="1.55"/><circle cx="589.69" cy="81.45" r="1.55"/><circle cx="591.66" cy="81.65" r="1.55"/><circle cx="593.63" cy="81.7" r="1.55"/><circle cx="595.6" cy="81.77" r="1.55"/><circle cx="597.57" cy="80.62" r="1.55"/><circle cx="599.54" cy="82.27" r="1.55"/><circle cx="601.51" cy="79.96" r="1.55"/><circle cx="603.49" cy="81.72" r="1.55"/><circle cx="605.46" cy="81.41" r="1.55"/><circle cx="607.43" cy="81.73" r="1.55"/><circle cx="609.4" cy="82.57" r="1.55"/><circle cx="611.37" cy="82.24" r="1.55"/><circle cx="613.34" cy="80.04" r="1.55"/><circle cx="615.31" cy="79.59" r="1.55"/><circle cx="617.29" cy="81.68" r="1.55"/><circle cx="619.26" cy="80.15" r="1.55"/><circle cx="621.23" cy="98" r="1.55"/><circle cx="623.2" cy="98.3" r="1.55"/><circle cx="625.17" cy="97.41" r="1.55"/><circle cx="627.14" cy="97.24" r="1.55"/><circle cx="629.11" cy="98.09" r="1.55"/><circle cx="631.09" cy="98.02" r="1.55"/><circle cx="633.06" cy="97.91" r="1.55"/><circle cx="635.03" cy="98.01" r="1.55"/><circle cx="637" cy="97.69" r="1.55"/><circle cx="638.97" cy="97.45" r="1.55"/><circle cx="640.94" cy="97.94" r="1.55"/><circle cx="642.91" cy="97.65" r="1.55"/><circle cx="644.89" cy="97.41" r="1.55"/><circle cx="646.86" cy="98.18" r="1.55"/><circle cx="648.83" cy="97.98" r="1.55"/><circle cx="650.8" cy="98.15" r="1.55"/><circle cx="652.77" cy="97.64" r="1.55"/><circle cx="654.74" cy="97.76" r="1.55"/><circle cx="656.71" cy="97.64" r="1.55"/><circle cx="658.69" cy="97.68" r="1.55"/><circle cx="660.66" cy="98.07" r="1.55"/><circle cx="662.63" cy="97.72" r="1.55"/><circle cx="664.6" cy="98.13" r="1.55"/><circle cx="666.57" cy="98.12" r="1.55"/><circle cx="668.54" cy="98.73" r="1.55"/><circle cx="670.51" cy="97.5" r="1.55"/><circle cx="672.49" cy="98.32" r="1.55"/><circle cx="674.46" cy="97.97" r="1.55"/><circle cx="676.43" cy="97.99" r="1.55"/><circle cx="678.4" cy="97.48" r="1.55"/></g>
<g fill="none" stroke="#f5141e" stroke-width="0.55"><circle cx="485.3" cy="80.7" r="1.55"/><circle cx="620.6" cy="84.6" r="1.55"/><circle cx="513.8" cy="57.2" r="1.55"/></g>
<g fill="none" stroke="#2d6fdc" stroke-width="0.55"><circle cx="636.0" cy="95.6" r="1.55"/><circle cx="606.3" cy="56.6" r="1.55"/><circle cx="501.2" cy="95.0" r="1.55"/></g>
<path d="M443.8 97.7 L485.4 97.7 L485.4 54.5 L514.8 54.5 L514.8 84 L588.4 84 L588.4 81 L619.7 81 L619.7 98 L678.4 98" fill="none" stroke="#f5141e" stroke-width="1.0"/>
<line x1="460.4" y1="81.4" x2="467.6" y2="81.4" stroke="#000" stroke-width="1.0"/>
<path d="M456.4 81.4L460.9 79.7L459.9 81.4L460.9 83.1Z" fill="#000"/>
<line x1="460.4" y1="84.8" x2="467.6" y2="84.8" stroke="#000" stroke-width="1.0"/>
<path d="M456.4 84.8L460.9 83.1L459.9 84.8L460.9 86.5Z" fill="#000"/>
<line x1="460.4" y1="88.2" x2="467.6" y2="88.2" stroke="#000" stroke-width="1.0"/>
<path d="M456.4 88.2L460.9 86.5L459.9 88.2L460.9 89.9Z" fill="#000"/>
<line x1="460.4" y1="91.6" x2="467.6" y2="91.6" stroke="#000" stroke-width="1.0"/>
<path d="M456.4 91.6L460.9 89.9L459.9 91.6L460.9 93.3Z" fill="#000"/>
<line x1="653.9" y1="81.8" x2="661.2" y2="81.8" stroke="#000" stroke-width="1.0"/>
<path d="M665.2 81.8L660.7 80.1L661.7 81.8L660.7 83.5Z" fill="#000"/>
<line x1="653.9" y1="85.2" x2="661.2" y2="85.2" stroke="#000" stroke-width="1.0"/>
<path d="M665.2 85.2L660.7 83.5L661.7 85.2L660.7 86.9Z" fill="#000"/>
<line x1="653.9" y1="88.6" x2="661.2" y2="88.6" stroke="#000" stroke-width="1.0"/>
<path d="M665.2 88.6L660.7 86.9L661.7 88.6L660.7 90.3Z" fill="#000"/>
<line x1="653.9" y1="92" x2="661.2" y2="92" stroke="#000" stroke-width="1.0"/>
<path d="M665.2 92L660.7 90.3L661.7 92L660.7 93.7Z" fill="#000"/>
<line x1="494.1" y1="37.2" x2="501.5" y2="37.2" stroke="#e8141e" stroke-width="1.0"/>
<path d="M505.5 37.2L501 35.5L502 37.2L501 38.9Z" fill="#e8141e"/>
<line x1="498.1" y1="40.5" x2="505.5" y2="40.5" stroke="#e8141e" stroke-width="1.0"/>
<path d="M494.1 40.5L498.6 38.8L497.6 40.5L498.6 42.2Z" fill="#e8141e"/>
<line x1="498.1" y1="43.9" x2="505.5" y2="43.9" stroke="#e8141e" stroke-width="1.0"/>
<path d="M494.1 43.9L498.6 42.2L497.6 43.9L498.6 45.6Z" fill="#e8141e"/>
<line x1="498.1" y1="47.2" x2="505.5" y2="47.2" stroke="#e8141e" stroke-width="1.0"/>
<path d="M494.1 47.2L498.6 45.5L497.6 47.2L498.6 48.9Z" fill="#e8141e"/>
<line x1="522.7" y1="65.2" x2="529.5" y2="65.2" stroke="#2a6fdd" stroke-width="1.0"/>
<path d="M518.7 65.2L523.2 63.5L522.2 65.2L523.2 66.9Z" fill="#2a6fdd"/>
<line x1="518.7" y1="68.8" x2="525.5" y2="68.8" stroke="#2a6fdd" stroke-width="1.0"/>
<path d="M529.5 68.8L525 67.1L526 68.8L525 70.5Z" fill="#2a6fdd"/>
<line x1="522.7" y1="72.4" x2="529.5" y2="72.4" stroke="#2a6fdd" stroke-width="1.0"/>
<path d="M518.7 72.4L523.2 70.7L522.2 72.4L523.2 74.1Z" fill="#2a6fdd"/>
<line x1="522.7" y1="76" x2="529.5" y2="76" stroke="#2a6fdd" stroke-width="1.0"/>
<path d="M518.7 76L523.2 74.3L522.2 76L523.2 77.7Z" fill="#2a6fdd"/>
<line x1="555.2" y1="68.8" x2="562.5" y2="68.8" stroke="#e8141e" stroke-width="1.0"/>
<path d="M566.5 68.8L562 67.1L563 68.8L562 70.5Z" fill="#e8141e"/>
<line x1="559.2" y1="72.1" x2="566.5" y2="72.1" stroke="#e8141e" stroke-width="1.0"/>
<path d="M555.2 72.1L559.7 70.4L558.7 72.1L559.7 73.8Z" fill="#e8141e"/>
<line x1="555.2" y1="75.5" x2="562.5" y2="75.5" stroke="#e8141e" stroke-width="1.0"/>
<path d="M566.5 75.5L562 73.8L563 75.5L562 77.2Z" fill="#e8141e"/>
<line x1="559.2" y1="78.8" x2="566.5" y2="78.8" stroke="#e8141e" stroke-width="1.0"/>
<path d="M555.2 78.8L559.7 77.1L558.7 78.8L559.7 80.5Z" fill="#e8141e"/>
<line x1="559.3" y1="94.4" x2="566.6" y2="94.4" stroke="#2a6fdd" stroke-width="1.0"/>
<path d="M555.3 94.4L559.8 92.7L558.8 94.4L559.8 96.1Z" fill="#2a6fdd"/>
<line x1="555.3" y1="97.8" x2="562.6" y2="97.8" stroke="#2a6fdd" stroke-width="1.0"/>
<path d="M566.6 97.8L562.1 96.1L563.1 97.8L562.1 99.5Z" fill="#2a6fdd"/>
<line x1="559.3" y1="101.1" x2="566.6" y2="101.1" stroke="#2a6fdd" stroke-width="1.0"/>
<path d="M555.3 101.1L559.8 99.4L558.8 101.1L559.8 102.8Z" fill="#2a6fdd"/>
<line x1="555.3" y1="104.4" x2="562.6" y2="104.4" stroke="#2a6fdd" stroke-width="1.0"/>
<path d="M566.6 104.4L562.1 102.7L563.1 104.4L562.1 106.1Z" fill="#2a6fdd"/>
<line x1="591.8" y1="66" x2="598.8" y2="66" stroke="#e8141e" stroke-width="1.0"/>
<path d="M602.8 66L598.3 64.3L599.3 66L598.3 67.7Z" fill="#e8141e"/>
<line x1="595.8" y1="69.3" x2="602.8" y2="69.3" stroke="#e8141e" stroke-width="1.0"/>
<path d="M591.8 69.3L596.3 67.6L595.3 69.3L596.3 71Z" fill="#e8141e"/>
<line x1="591.8" y1="72.7" x2="598.8" y2="72.7" stroke="#e8141e" stroke-width="1.0"/>
<path d="M602.8 72.7L598.3 71L599.3 72.7L598.3 74.4Z" fill="#e8141e"/>
<line x1="591.8" y1="76" x2="598.8" y2="76" stroke="#e8141e" stroke-width="1.0"/>
<path d="M602.8 76L598.3 74.3L599.3 76L598.3 77.7Z" fill="#e8141e"/>
<line x1="619.5" y1="36.1" x2="626.6" y2="36.1" stroke="#2a6fdd" stroke-width="1.0"/>
<path d="M615.5 36.1L620 34.4L619 36.1L620 37.8Z" fill="#2a6fdd"/>
<line x1="615.5" y1="39.5" x2="622.6" y2="39.5" stroke="#2a6fdd" stroke-width="1.0"/>
<path d="M626.6 39.5L622.1 37.8L623.1 39.5L622.1 41.2Z" fill="#2a6fdd"/>
<line x1="615.5" y1="42.9" x2="622.6" y2="42.9" stroke="#2a6fdd" stroke-width="1.0"/>
<path d="M626.6 42.9L622.1 41.2L623.1 42.9L622.1 44.6Z" fill="#2a6fdd"/>
<line x1="615.5" y1="46.3" x2="622.6" y2="46.3" stroke="#2a6fdd" stroke-width="1.0"/>
<path d="M626.6 46.3L622.1 44.6L623.1 46.3L622.1 48Z" fill="#2a6fdd"/>
<line x1="443.4" y1="161.0" x2="443.4" y2="265.8" stroke="#6e6e6e" stroke-width="0.9"/>
<line x1="443.4" y1="263.4" x2="679.4" y2="263.4" stroke="#6e6e6e" stroke-width="0.9"/>
<line x1="443.4" y1="263.4" x2="443.4" y2="265.9" stroke="#6e6e6e" stroke-width="0.9"/>
<text transform="translate(443.2 277)" font-size="9.7" font-weight="normal" text-anchor="middle" fill="#231f20" letter-spacing="-0.4"><tspan dy="0.9">−</tspan><tspan dy="-0.9" dx="0.4">2.0</tspan></text>
<line x1="458.15" y1="263.4" x2="458.15" y2="264.6" stroke="#6e6e6e" stroke-width="0.9"/>
<line x1="472.9" y1="263.4" x2="472.9" y2="265.9" stroke="#6e6e6e" stroke-width="0.9"/>
<text transform="translate(472.7 277)" font-size="9.7" font-weight="normal" text-anchor="middle" fill="#231f20" letter-spacing="-0.4"><tspan dy="0.9">−</tspan><tspan dy="-0.9" dx="0.4">1.5</tspan></text>
<line x1="487.65" y1="263.4" x2="487.65" y2="264.6" stroke="#6e6e6e" stroke-width="0.9"/>
<line x1="502.4" y1="263.4" x2="502.4" y2="265.9" stroke="#6e6e6e" stroke-width="0.9"/>
<text transform="translate(502.2 277)" font-size="9.7" font-weight="normal" text-anchor="middle" fill="#231f20" letter-spacing="-0.4"><tspan dy="0.9">−</tspan><tspan dy="-0.9" dx="0.4">1.0</tspan></text>
<line x1="517.15" y1="263.4" x2="517.15" y2="264.6" stroke="#6e6e6e" stroke-width="0.9"/>
<line x1="531.9" y1="263.4" x2="531.9" y2="265.9" stroke="#6e6e6e" stroke-width="0.9"/>
<text transform="translate(531.7 277)" font-size="9.7" font-weight="normal" text-anchor="middle" fill="#231f20" letter-spacing="-0.4"><tspan dy="0.9">−</tspan><tspan dy="-0.9" dx="0.4">0.5</tspan></text>
<line x1="546.65" y1="263.4" x2="546.65" y2="264.6" stroke="#6e6e6e" stroke-width="0.9"/>
<line x1="561.4" y1="263.4" x2="561.4" y2="265.9" stroke="#6e6e6e" stroke-width="0.9"/>
<text transform="translate(561.2 277)" font-size="9.7" font-weight="normal" text-anchor="middle" fill="#231f20" letter-spacing="-0.4">0</text>
<line x1="576.15" y1="263.4" x2="576.15" y2="264.6" stroke="#6e6e6e" stroke-width="0.9"/>
<line x1="590.9" y1="263.4" x2="590.9" y2="265.9" stroke="#6e6e6e" stroke-width="0.9"/>
<text transform="translate(590.7 277)" font-size="9.7" font-weight="normal" text-anchor="middle" fill="#231f20" letter-spacing="-0.4">0.5</text>
<line x1="605.65" y1="263.4" x2="605.65" y2="264.6" stroke="#6e6e6e" stroke-width="0.9"/>
<line x1="620.4" y1="263.4" x2="620.4" y2="265.9" stroke="#6e6e6e" stroke-width="0.9"/>
<text transform="translate(620.2 277)" font-size="9.7" font-weight="normal" text-anchor="middle" fill="#231f20" letter-spacing="-0.4">1.0</text>
<line x1="635.15" y1="263.4" x2="635.15" y2="264.6" stroke="#6e6e6e" stroke-width="0.9"/>
<line x1="649.9" y1="263.4" x2="649.9" y2="265.9" stroke="#6e6e6e" stroke-width="0.9"/>
<text transform="translate(649.7 277)" font-size="9.7" font-weight="normal" text-anchor="middle" fill="#231f20" letter-spacing="-0.4">1.5</text>
<line x1="664.65" y1="263.4" x2="664.65" y2="264.6" stroke="#6e6e6e" stroke-width="0.9"/>
<line x1="679.4" y1="263.4" x2="679.4" y2="265.9" stroke="#6e6e6e" stroke-width="0.9"/>
<text transform="translate(679.2 277)" font-size="9.7" font-weight="normal" text-anchor="middle" fill="#231f20" letter-spacing="-0.4">2.0</text>
<line x1="440.8" y1="263.4" x2="443.4" y2="263.4" stroke="#6e6e6e" stroke-width="0.9"/>
<text transform="translate(438 266.5)" font-size="9.7" font-weight="normal" text-anchor="end" fill="#231f20" >0</text>
<line x1="442.2" y1="253.2" x2="443.4" y2="253.2" stroke="#6e6e6e" stroke-width="0.9"/>
<line x1="440.8" y1="243" x2="443.4" y2="243" stroke="#6e6e6e" stroke-width="0.9"/>
<text transform="translate(438 246.1)" font-size="9.7" font-weight="normal" text-anchor="end" fill="#231f20" >0.5</text>
<line x1="442.2" y1="232.8" x2="443.4" y2="232.8" stroke="#6e6e6e" stroke-width="0.9"/>
<line x1="440.8" y1="222.6" x2="443.4" y2="222.6" stroke="#6e6e6e" stroke-width="0.9"/>
<text transform="translate(438 225.7)" font-size="9.7" font-weight="normal" text-anchor="end" fill="#231f20" >1.0</text>
<line x1="442.2" y1="212.4" x2="443.4" y2="212.4" stroke="#6e6e6e" stroke-width="0.9"/>
<line x1="440.8" y1="202.2" x2="443.4" y2="202.2" stroke="#6e6e6e" stroke-width="0.9"/>
<text transform="translate(438 205.3)" font-size="9.7" font-weight="normal" text-anchor="end" fill="#231f20" >1.5</text>
<line x1="442.2" y1="192" x2="443.4" y2="192" stroke="#6e6e6e" stroke-width="0.9"/>
<line x1="440.8" y1="181.8" x2="443.4" y2="181.8" stroke="#6e6e6e" stroke-width="0.9"/>
<text transform="translate(438 184.9)" font-size="9.7" font-weight="normal" text-anchor="end" fill="#231f20" >2.0</text>
<line x1="442.2" y1="171.6" x2="443.4" y2="171.6" stroke="#6e6e6e" stroke-width="0.9"/>
<line x1="440.8" y1="161.4" x2="443.4" y2="161.4" stroke="#6e6e6e" stroke-width="0.9"/>
<text transform="translate(438 164.5)" font-size="9.7" font-weight="normal" text-anchor="end" fill="#231f20" >2.5</text>
<text transform="translate(560.8 290.2) scale(0.956 1.0)" font-size="9.7" font-weight="normal" text-anchor="middle" fill="#231f20" >Magnetic field (T)</text>
<text transform="translate(416.5 212.45) rotate(-90) scale(0.889 1.0)" font-size="10.2" font-weight="normal" text-anchor="middle" fill="#231f20" >SHG (a.u.)</text>
<text transform="translate(449.3 175.2) scale(1 1.0)" font-size="9.7" fill="#231f20">CrPS<tspan font-size="6" dy="1.8">4</tspan></text>
<circle cx="592.6" cy="166.0" r="1.9" fill="none" stroke="#2d6fdc" stroke-width="0.7"/>
<circle cx="592.6" cy="178.0" r="1.9" fill="none" stroke="#f5141e" stroke-width="0.7"/>
<text transform="translate(598.25 169.3) scale(0.955 1.0)" font-size="9.7" font-weight="normal" text-anchor="start" fill="#231f20" >Forward sweep</text>
<text transform="translate(598.25 181.2) scale(0.955 1.0)" font-size="9.7" font-weight="normal" text-anchor="start" fill="#231f20" >Backward sweep</text>
<g fill="none" stroke="#2d6fdc" stroke-width="0.6"><circle cx="443.62" cy="238.49" r="1.75"/><circle cx="445.01" cy="239.2" r="1.75"/><circle cx="446.91" cy="238.62" r="1.75"/><circle cx="447.48" cy="239.09" r="1.75"/><circle cx="449.13" cy="237.5" r="1.75"/><circle cx="451.15" cy="231.75" r="1.75"/><circle cx="452.9" cy="241.71" r="1.75"/><circle cx="454.19" cy="236.08" r="1.75"/><circle cx="456.1" cy="241.03" r="1.75"/><circle cx="457.61" cy="238.52" r="1.75"/><circle cx="459.45" cy="238.38" r="1.75"/><circle cx="460.86" cy="239.39" r="1.75"/><circle cx="462.53" cy="235.75" r="1.75"/><circle cx="464.28" cy="236.4" r="1.75"/><circle cx="465.5" cy="234.98" r="1.75"/><circle cx="466.72" cy="237.62" r="1.75"/><circle cx="469.14" cy="241.29" r="1.75"/><circle cx="470.51" cy="236.35" r="1.75"/><circle cx="471.08" cy="238.07" r="1.75"/><circle cx="473.42" cy="237.65" r="1.75"/><circle cx="474.7" cy="237.15" r="1.75"/><circle cx="476.55" cy="236.17" r="1.75"/><circle cx="478.29" cy="239.12" r="1.75"/><circle cx="480.23" cy="236.23" r="1.75"/><circle cx="481.23" cy="234.75" r="1.75"/><circle cx="483.4" cy="231.71" r="1.75"/><circle cx="484.79" cy="237.57" r="1.75"/><circle cx="486.13" cy="236.64" r="1.75"/><circle cx="487.6" cy="235.09" r="1.75"/><circle cx="489.27" cy="233.61" r="1.75"/><circle cx="491" cy="236.73" r="1.75"/><circle cx="492.24" cy="232.54" r="1.75"/><circle cx="494.48" cy="230.31" r="1.75"/><circle cx="495.6" cy="231.05" r="1.75"/><circle cx="496.83" cy="228" r="1.75"/><circle cx="499" cy="227.44" r="1.75"/><circle cx="500.26" cy="225.4" r="1.75"/><circle cx="501.94" cy="224.35" r="1.75"/><circle cx="503.42" cy="219.9" r="1.75"/><circle cx="505.33" cy="220.1" r="1.75"/><circle cx="506.82" cy="218.86" r="1.75"/><circle cx="508.14" cy="222.48" r="1.75"/><circle cx="509.87" cy="215.87" r="1.75"/><circle cx="511.09" cy="215.05" r="1.75"/><circle cx="513.58" cy="213.93" r="1.75"/><circle cx="514.49" cy="210.21" r="1.75"/><circle cx="516.23" cy="206.51" r="1.75"/><circle cx="517.38" cy="204.36" r="1.75"/><circle cx="519.03" cy="207.6" r="1.75"/><circle cx="521.34" cy="205.47" r="1.75"/><circle cx="522.63" cy="202.01" r="1.75"/><circle cx="523.98" cy="204.62" r="1.75"/><circle cx="525.22" cy="197.6" r="1.75"/><circle cx="527.65" cy="198.99" r="1.75"/><circle cx="528.5" cy="201.01" r="1.75"/><circle cx="530.22" cy="197.02" r="1.75"/><circle cx="531.89" cy="199.54" r="1.75"/><circle cx="533.62" cy="199.37" r="1.75"/><circle cx="535.1" cy="198.24" r="1.75"/><circle cx="536.67" cy="199.35" r="1.75"/><circle cx="538.83" cy="200.01" r="1.75"/><circle cx="539.87" cy="200.2" r="1.75"/><circle cx="541.55" cy="195.19" r="1.75"/><circle cx="542.59" cy="194.62" r="1.75"/><circle cx="544.81" cy="200.78" r="1.75"/><circle cx="545.67" cy="198.57" r="1.75"/><circle cx="547.56" cy="198.08" r="1.75"/><circle cx="550.02" cy="200.3" r="1.75"/><circle cx="550.69" cy="199.38" r="1.75"/><circle cx="552.49" cy="196.32" r="1.75"/><circle cx="553.74" cy="198.51" r="1.75"/><circle cx="555.32" cy="199.16" r="1.75"/><circle cx="557.57" cy="201.35" r="1.75"/><circle cx="558.69" cy="201.29" r="1.75"/><circle cx="560.37" cy="200.03" r="1.75"/><circle cx="561.89" cy="198.04" r="1.75"/><circle cx="563.14" cy="215.46" r="1.75"/><circle cx="565.1" cy="220.08" r="1.75"/><circle cx="567.03" cy="218.82" r="1.75"/><circle cx="568.08" cy="214.54" r="1.75"/><circle cx="570.01" cy="218.75" r="1.75"/><circle cx="571.79" cy="217.55" r="1.75"/><circle cx="572.7" cy="218.85" r="1.75"/><circle cx="574.88" cy="216.35" r="1.75"/><circle cx="575.65" cy="219.42" r="1.75"/><circle cx="577.98" cy="221.36" r="1.75"/><circle cx="579.27" cy="221.36" r="1.75"/><circle cx="580.63" cy="217.75" r="1.75"/><circle cx="582.49" cy="223.98" r="1.75"/><circle cx="583.93" cy="221.89" r="1.75"/><circle cx="585.21" cy="218.76" r="1.75"/><circle cx="587.59" cy="217.56" r="1.75"/><circle cx="589.19" cy="215.65" r="1.75"/><circle cx="590.14" cy="219.14" r="1.75"/><circle cx="591.9" cy="217.3" r="1.75"/><circle cx="593.45" cy="218.18" r="1.75"/><circle cx="595.1" cy="216.2" r="1.75"/><circle cx="596.39" cy="215.48" r="1.75"/><circle cx="598.62" cy="217.36" r="1.75"/><circle cx="599.94" cy="213.82" r="1.75"/><circle cx="601.23" cy="215.43" r="1.75"/><circle cx="602.95" cy="218.3" r="1.75"/><circle cx="604.45" cy="219.28" r="1.75"/><circle cx="606.2" cy="216.4" r="1.75"/><circle cx="608.02" cy="213.46" r="1.75"/><circle cx="609.61" cy="214.33" r="1.75"/><circle cx="610.68" cy="214.07" r="1.75"/><circle cx="612.6" cy="213.45" r="1.75"/><circle cx="613.9" cy="215.29" r="1.75"/><circle cx="615.24" cy="212.6" r="1.75"/><circle cx="617.01" cy="213.66" r="1.75"/><circle cx="618.9" cy="207.89" r="1.75"/><circle cx="620.04" cy="213.94" r="1.75"/><circle cx="621.85" cy="208.76" r="1.75"/><circle cx="623.77" cy="208.31" r="1.75"/><circle cx="625.02" cy="208.8" r="1.75"/><circle cx="626.59" cy="211.82" r="1.75"/><circle cx="628.11" cy="211.45" r="1.75"/><circle cx="629.43" cy="207.79" r="1.75"/><circle cx="631.47" cy="214.51" r="1.75"/><circle cx="633.14" cy="211.22" r="1.75"/><circle cx="634.74" cy="211.43" r="1.75"/><circle cx="636" cy="215.67" r="1.75"/><circle cx="637.59" cy="208.45" r="1.75"/><circle cx="639.69" cy="209.33" r="1.75"/><circle cx="640.76" cy="214.55" r="1.75"/><circle cx="642.53" cy="210.21" r="1.75"/><circle cx="643.37" cy="216.85" r="1.75"/><circle cx="645.47" cy="215.46" r="1.75"/><circle cx="647.05" cy="217.11" r="1.75"/><circle cx="648.51" cy="214.58" r="1.75"/><circle cx="650.95" cy="213.45" r="1.75"/><circle cx="652" cy="217.79" r="1.75"/><circle cx="653.13" cy="214.47" r="1.75"/><circle cx="655.27" cy="215.9" r="1.75"/><circle cx="656.83" cy="216.92" r="1.75"/><circle cx="658.42" cy="214.98" r="1.75"/><circle cx="660.41" cy="217.71" r="1.75"/><circle cx="661.57" cy="222.25" r="1.75"/><circle cx="663.17" cy="216.8" r="1.75"/><circle cx="664.55" cy="217.57" r="1.75"/><circle cx="666.04" cy="219.23" r="1.75"/><circle cx="667.9" cy="221.14" r="1.75"/><circle cx="669.46" cy="220.81" r="1.75"/><circle cx="670.81" cy="219.16" r="1.75"/><circle cx="672.51" cy="220.76" r="1.75"/><circle cx="674.26" cy="222.31" r="1.75"/><circle cx="675.86" cy="219.32" r="1.75"/><circle cx="677.23" cy="219.87" r="1.75"/><circle cx="678.38" cy="222.64" r="1.75"/></g>
<g fill="none" stroke="#f5141e" stroke-width="0.6"><circle cx="443.45" cy="242.2" r="1.75"/><circle cx="444.85" cy="241.53" r="1.75"/><circle cx="446.27" cy="240.94" r="1.75"/><circle cx="447.98" cy="241.05" r="1.75"/><circle cx="449.36" cy="241.72" r="1.75"/><circle cx="451.35" cy="241.92" r="1.75"/><circle cx="452.76" cy="240.97" r="1.75"/><circle cx="453.97" cy="242.37" r="1.75"/><circle cx="456.12" cy="242.05" r="1.75"/><circle cx="457.75" cy="241.54" r="1.75"/><circle cx="459.13" cy="239.36" r="1.75"/><circle cx="460.92" cy="242.08" r="1.75"/><circle cx="461.92" cy="241" r="1.75"/><circle cx="464.31" cy="241.59" r="1.75"/><circle cx="465.61" cy="242.49" r="1.75"/><circle cx="467.4" cy="236.71" r="1.75"/><circle cx="467.94" cy="239.68" r="1.75"/><circle cx="469.83" cy="240.7" r="1.75"/><circle cx="471.67" cy="236.88" r="1.75"/><circle cx="473.33" cy="242.4" r="1.75"/><circle cx="475.55" cy="240.06" r="1.75"/><circle cx="476.57" cy="242.77" r="1.75"/><circle cx="477.81" cy="238.47" r="1.75"/><circle cx="479.9" cy="237.21" r="1.75"/><circle cx="481.38" cy="239.35" r="1.75"/><circle cx="482.7" cy="240.4" r="1.75"/><circle cx="484.73" cy="237.82" r="1.75"/><circle cx="486.41" cy="238.95" r="1.75"/><circle cx="487.58" cy="237.99" r="1.75"/><circle cx="488.95" cy="237.36" r="1.75"/><circle cx="491.01" cy="232.3" r="1.75"/><circle cx="492.51" cy="235.05" r="1.75"/><circle cx="493.89" cy="230.47" r="1.75"/><circle cx="495.32" cy="232.21" r="1.75"/><circle cx="497.06" cy="227.4" r="1.75"/><circle cx="498.86" cy="233.16" r="1.75"/><circle cx="500.32" cy="228.54" r="1.75"/><circle cx="501.08" cy="230.1" r="1.75"/><circle cx="503.65" cy="226.74" r="1.75"/><circle cx="505.58" cy="227.08" r="1.75"/><circle cx="506.74" cy="226.65" r="1.75"/><circle cx="508.47" cy="223.39" r="1.75"/><circle cx="509.8" cy="219.61" r="1.75"/><circle cx="511.98" cy="220.65" r="1.75"/><circle cx="512.96" cy="216.17" r="1.75"/><circle cx="514.96" cy="214.82" r="1.75"/><circle cx="516.58" cy="212.34" r="1.75"/><circle cx="517.66" cy="208.57" r="1.75"/><circle cx="519.53" cy="209.55" r="1.75"/><circle cx="520.43" cy="210.59" r="1.75"/><circle cx="522.56" cy="204.63" r="1.75"/><circle cx="523.58" cy="204.07" r="1.75"/><circle cx="525.77" cy="207.28" r="1.75"/><circle cx="527.06" cy="206.08" r="1.75"/><circle cx="528.71" cy="207.26" r="1.75"/><circle cx="530.09" cy="207.41" r="1.75"/><circle cx="532.01" cy="203.12" r="1.75"/><circle cx="533.73" cy="203.45" r="1.75"/><circle cx="534.83" cy="205.57" r="1.75"/><circle cx="536.59" cy="205.16" r="1.75"/><circle cx="538.08" cy="207.01" r="1.75"/><circle cx="540.22" cy="204.03" r="1.75"/><circle cx="542.03" cy="209.92" r="1.75"/><circle cx="543.08" cy="205.14" r="1.75"/><circle cx="544.56" cy="208.37" r="1.75"/><circle cx="546.21" cy="202.85" r="1.75"/><circle cx="547.51" cy="205.99" r="1.75"/><circle cx="548.91" cy="201.38" r="1.75"/><circle cx="550.69" cy="206.46" r="1.75"/><circle cx="552.57" cy="204.69" r="1.75"/><circle cx="553.98" cy="206.36" r="1.75"/><circle cx="555.4" cy="206.1" r="1.75"/><circle cx="556.94" cy="204.2" r="1.75"/><circle cx="558.82" cy="207.49" r="1.75"/><circle cx="560.3" cy="203.37" r="1.75"/><circle cx="562.2" cy="221.42" r="1.75"/><circle cx="563.26" cy="218.41" r="1.75"/><circle cx="565.91" cy="221.1" r="1.75"/><circle cx="566.7" cy="224.04" r="1.75"/><circle cx="568.93" cy="223.52" r="1.75"/><circle cx="569.79" cy="221.45" r="1.75"/><circle cx="571.63" cy="224.64" r="1.75"/><circle cx="572.91" cy="223.46" r="1.75"/><circle cx="575.15" cy="226.23" r="1.75"/><circle cx="576.43" cy="223.25" r="1.75"/><circle cx="577.99" cy="217.54" r="1.75"/><circle cx="579.51" cy="221.57" r="1.75"/><circle cx="580.86" cy="223.5" r="1.75"/><circle cx="582.66" cy="218.28" r="1.75"/><circle cx="584.03" cy="220.37" r="1.75"/><circle cx="585.61" cy="220.67" r="1.75"/><circle cx="587.66" cy="216.92" r="1.75"/><circle cx="589.2" cy="222.56" r="1.75"/><circle cx="590.46" cy="226.36" r="1.75"/><circle cx="591.77" cy="218.03" r="1.75"/><circle cx="593.46" cy="219.24" r="1.75"/><circle cx="594.6" cy="221.79" r="1.75"/><circle cx="596.32" cy="222.09" r="1.75"/><circle cx="598.33" cy="221.72" r="1.75"/><circle cx="599.92" cy="220.1" r="1.75"/><circle cx="601.34" cy="219.27" r="1.75"/><circle cx="603.09" cy="216.32" r="1.75"/><circle cx="605.28" cy="223.65" r="1.75"/><circle cx="606.48" cy="222.06" r="1.75"/><circle cx="608.28" cy="217.23" r="1.75"/><circle cx="609.41" cy="218.14" r="1.75"/><circle cx="611.04" cy="217.13" r="1.75"/><circle cx="612.56" cy="216.32" r="1.75"/><circle cx="614.06" cy="214.4" r="1.75"/><circle cx="615.73" cy="221.31" r="1.75"/><circle cx="617.49" cy="215.3" r="1.75"/><circle cx="618.58" cy="217.02" r="1.75"/><circle cx="620.77" cy="214.65" r="1.75"/><circle cx="622.11" cy="215.34" r="1.75"/><circle cx="623.45" cy="217.81" r="1.75"/><circle cx="625.08" cy="214.36" r="1.75"/><circle cx="626.23" cy="217.42" r="1.75"/><circle cx="628.24" cy="212.62" r="1.75"/><circle cx="630.16" cy="215.51" r="1.75"/><circle cx="631.09" cy="217.08" r="1.75"/><circle cx="633.06" cy="215.94" r="1.75"/><circle cx="634.89" cy="213.22" r="1.75"/><circle cx="635.68" cy="213.05" r="1.75"/><circle cx="637.44" cy="214.66" r="1.75"/><circle cx="639.58" cy="214.44" r="1.75"/><circle cx="641.53" cy="217.03" r="1.75"/><circle cx="642.17" cy="216.43" r="1.75"/><circle cx="643.94" cy="215.72" r="1.75"/><circle cx="645.93" cy="215.23" r="1.75"/><circle cx="646.78" cy="217" r="1.75"/><circle cx="648.92" cy="220.34" r="1.75"/><circle cx="650.57" cy="219.98" r="1.75"/><circle cx="652.13" cy="220.98" r="1.75"/><circle cx="653.83" cy="222.7" r="1.75"/><circle cx="655.4" cy="221.22" r="1.75"/><circle cx="656.81" cy="217.5" r="1.75"/><circle cx="658.51" cy="220.48" r="1.75"/><circle cx="660.52" cy="218.41" r="1.75"/><circle cx="661.24" cy="221.97" r="1.75"/><circle cx="663.1" cy="218.33" r="1.75"/><circle cx="664.55" cy="222.31" r="1.75"/><circle cx="666.16" cy="223.16" r="1.75"/><circle cx="667.71" cy="224.62" r="1.75"/><circle cx="669.81" cy="223.78" r="1.75"/><circle cx="670.79" cy="230.02" r="1.75"/><circle cx="672.42" cy="223.86" r="1.75"/><circle cx="673.91" cy="227.12" r="1.75"/><circle cx="675.83" cy="224.85" r="1.75"/><circle cx="677.13" cy="224.27" r="1.75"/><circle cx="678.37" cy="225.84" r="1.75"/></g>
<path d="M443.4 240.5 L444.4 240.42 L445.4 240.35 L446.4 240.27 L447.4 240.2 L448.4 240.12 L449.4 240.04 L450.4 239.97 L451.4 239.89 L452.4 239.82 L453.4 239.74 L454.4 239.66 L455.4 239.59 L456.4 239.51 L457.4 239.44 L458.4 239.36 L459.4 239.28 L460.4 239.21 L461.4 239.12 L462.4 239.04 L463.4 238.95 L464.4 238.87 L465.4 238.78 L466.4 238.7 L467.4 238.61 L468.4 238.53 L469.4 238.44 L470.4 238.36 L471.4 238.27 L472.4 238.19 L473.4 238.1 L474.4 238.02 L475.4 237.93 L476.4 237.8 L477.4 237.63 L478.4 237.47 L479.4 237.3 L480.4 237.13 L481.4 236.97 L482.4 236.8 L483.4 236.63 L484.4 236.47 L485.4 236.3 L486.4 236.06 L487.4 235.71 L488.4 235.36 L489.4 235.01 L490.4 234.61 L491.4 234.14 L492.4 233.68 L493.4 233.15 L494.4 232.41 L495.4 231.67 L496.4 230.93 L497.4 230.18 L498.4 229.44 L499.4 228.7 L500.4 227.8 L501.4 226.89 L502.4 225.99 L503.4 225.09 L504.4 224.18 L505.4 223.28 L506.4 222.38 L507.4 221.47 L508.4 220.57 L509.4 219.35 L510.4 218 L511.4 216.65 L512.4 215.29 L513.4 213.94 L514.4 212.59 L515.4 211.24 L516.4 210.12 L517.4 209.04 L518.4 207.96 L519.4 206.88 L520.4 205.8 L521.4 204.75 L522.4 203.7 L523.4 202.97 L524.4 202.27 L524.5 201.4 L526 201.1 L562.2 201.1 L562.2 218.7 L563.2 218.72 L564.2 218.72 L565.2 218.73 L566.2 218.74 L567.2 218.74 L568.2 218.75 L569.2 218.76 L570.2 218.77 L571.2 218.77 L572.2 218.78 L573.2 218.79 L574.2 218.79 L575.2 218.8 L576.2 218.8 L577.2 218.8 L578.2 218.8 L579.2 218.8 L580.2 218.8 L581.2 218.8 L582.2 218.8 L583.2 218.8 L584.2 218.8 L585.2 218.8 L586.2 218.8 L587.2 218.8 L588.2 218.8 L589.2 218.8 L590.2 218.8 L591.2 218.8 L592.2 218.8 L593.2 218.77 L594.2 218.59 L595.2 218.41 L596.2 218.24 L597.2 218.06 L598.2 217.89 L599.2 217.72 L600.2 217.54 L601.2 217.34 L602.2 217.07 L603.2 216.79 L604.2 216.52 L605.2 216.25 L606.2 215.97 L607.2 215.69 L608.2 215.42 L609.2 215.14 L610.2 214.82 L611.2 214.51 L612.2 214.2 L613.2 213.89 L614.2 213.57 L615.2 213.26 L616.2 212.95 L617.2 212.65 L618.2 212.43 L619.2 212.2 L620.2 211.97 L621.2 211.75 L622.2 211.52 L623.2 211.29 L624.2 211.07 L625.2 210.98 L626.2 210.95 L627.2 210.93 L628.2 210.9 L629.2 210.87 L630.2 210.85 L631.2 210.82 L632.2 210.85 L633.2 211.1 L634.2 211.35 L635.2 211.6 L636.2 211.85 L637.2 212.1 L638.2 212.35 L639.2 212.6 L640.2 212.87 L641.2 213.19 L642.2 213.52 L643.2 213.85 L644.2 214.18 L645.2 214.51 L646.2 214.84 L647.2 215.17 L648.2 215.42 L649.2 215.67 L650.2 215.92 L651.2 216.16 L652.2 216.41 L653.2 216.66 L654.2 216.9 L655.2 217.14 L656.2 217.36 L657.2 217.58 L658.2 217.8 L659.2 218.02 L660.2 218.24 L661.2 218.45 L662.2 218.67 L663.2 218.89 L664.2 219.14 L665.2 219.43 L666.2 219.71 L667.2 220 L668.2 220.29 L669.2 220.57 L670.2 220.87 L671.2 221.19 L672.2 221.52 L673.2 221.85 L674.2 222.18 L675.2 222.51 L676.2 222.84 L677.2 223.16 L678.2 223.45 L679.2 223.74" transform="translate(0 -0.5)" fill="none" stroke="#2d6fdc" stroke-width="1.5"/>
<path d="M443.4 240.5 L444.4 240.42 L445.4 240.35 L446.4 240.27 L447.4 240.2 L448.4 240.12 L449.4 240.04 L450.4 239.97 L451.4 239.89 L452.4 239.82 L453.4 239.74 L454.4 239.66 L455.4 239.59 L456.4 239.51 L457.4 239.44 L458.4 239.36 L459.4 239.28 L460.4 239.21 L461.4 239.12 L462.4 239.04 L463.4 238.95 L464.4 238.87 L465.4 238.78 L466.4 238.7 L467.4 238.61 L468.4 238.53 L469.4 238.44 L470.4 238.36 L471.4 238.27 L472.4 238.19 L473.4 238.1 L474.4 238.02 L475.4 237.93 L476.4 237.8 L477.4 237.63 L478.4 237.47 L479.4 237.3 L480.4 237.13 L481.4 236.97 L482.4 236.8 L483.4 236.63 L484.4 236.47 L485.4 236.3 L486.4 236.06 L487.4 235.71 L488.4 235.36 L489.4 235.01 L490.4 234.61 L491.4 234.14 L492.4 233.68 L493.4 233.15 L494.4 232.41 L495.4 231.67 L496.4 230.93 L497.4 230.18 L498.4 229.44 L499.4 228.7 L500.4 227.8 L501.4 226.89 L502.4 225.99 L503.4 225.09 L504.4 224.18 L505.4 223.28 L506.4 222.38 L507.4 221.47 L508.4 220.57 L509.4 219.35 L510.4 218 L511.4 216.65 L512.4 215.29 L513.4 213.94 L514.4 212.59 L515.4 211.24 L516.4 210.12 L517.4 209.04 L518.4 207.96 L519.4 206.88 L520.4 205.8 L521.4 204.75 L522.4 203.7 L523.4 202.97 L524.4 202.27 L524.5 202.3 L526 202 L561 202 L561 219.9 L562 219.91 L563 219.91 L564 219.92 L565 219.93 L566 219.94 L567 219.94 L568 219.95 L569 219.96 L570 219.96 L571 219.97 L572 219.98 L573 219.99 L574 219.99 L575 220 L576 220 L577 220 L578 220 L579 220 L580 220 L581 220 L582 220 L583 220 L584 220 L585 220 L586 220 L587 220 L588 220 L589 220 L590 220 L591 220 L592 220 L593 220 L594 219.82 L595 219.65 L596 219.47 L597 219.3 L598 219.12 L599 218.95 L600 218.78 L601 218.6 L602 218.32 L603 218.05 L604 217.78 L605 217.5 L606 217.22 L607 216.95 L608 216.68 L609 216.4 L610 216.09 L611 215.78 L612 215.46 L613 215.15 L614 214.84 L615 214.53 L616 214.21 L617 213.9 L618 213.67 L619 213.45 L620 213.22 L621 212.99 L622 212.77 L623 212.54 L624 212.31 L625 212.19 L626 212.16 L627 212.13 L628 212.11 L629 212.08 L630 212.05 L631 212.03 L632 212 L633 212.25 L634 212.5 L635 212.75 L636 213 L637 213.25 L638 213.5 L639 213.75 L640 214 L641 214.33 L642 214.66 L643 214.99 L644 215.32 L645 215.64 L646 215.97 L647 216.3 L648 216.57 L649 216.82 L650 217.07 L651 217.31 L652 217.56 L653 217.81 L654 218.05 L655 218.3 L656 218.52 L657 218.74 L658 218.96 L659 219.17 L660 219.39 L661 219.61 L662 219.83 L663 220.05 L664 220.29 L665 220.57 L666 220.86 L667 221.14 L668 221.43 L669 221.71 L670 222 L671 222.33 L672 222.66 L673 222.99 L674 223.31 L675 223.64 L676 223.97 L677 224.3 L678 224.59 L679 224.88" fill="none" stroke="#f5141e" stroke-width="1.45"/>
<line x1="555.6" y1="184.5" x2="555.6" y2="191.9" stroke="#2a6fdd" stroke-width="0.9"/>
<path d="M555.6 181L554 185L557.2 185Z" fill="#2a6fdd"/>
<line x1="559.3" y1="181" x2="559.3" y2="188.4" stroke="#2a6fdd" stroke-width="0.9"/>
<path d="M559.3 191.9L557.7 187.9L560.9 187.9Z" fill="#2a6fdd"/>
<line x1="562.6" y1="184.5" x2="562.6" y2="191.9" stroke="#2a6fdd" stroke-width="0.9"/>
<path d="M562.6 181L561 185L564.2 185Z" fill="#2a6fdd"/>
<line x1="566.1" y1="181" x2="566.1" y2="188.4" stroke="#2a6fdd" stroke-width="0.9"/>
<path d="M566.1 191.9L564.5 187.9L567.7 187.9Z" fill="#2a6fdd"/>
<line x1="555.6" y1="229.1" x2="555.6" y2="236.5" stroke="#e8141e" stroke-width="0.9"/>
<path d="M555.6 240L554 236L557.2 236Z" fill="#e8141e"/>
<line x1="559.3" y1="232.6" x2="559.3" y2="240" stroke="#e8141e" stroke-width="0.9"/>
<path d="M559.3 229.1L557.7 233.1L560.9 233.1Z" fill="#e8141e"/>
<line x1="562.6" y1="229.1" x2="562.6" y2="236.5" stroke="#e8141e" stroke-width="0.9"/>
<path d="M562.6 240L561 236L564.2 236Z" fill="#e8141e"/>
<line x1="566.1" y1="232.6" x2="566.1" y2="240" stroke="#e8141e" stroke-width="0.9"/>
<path d="M566.1 229.1L564.5 233.1L567.7 233.1Z" fill="#e8141e"/>
</svg>
</body></html>
